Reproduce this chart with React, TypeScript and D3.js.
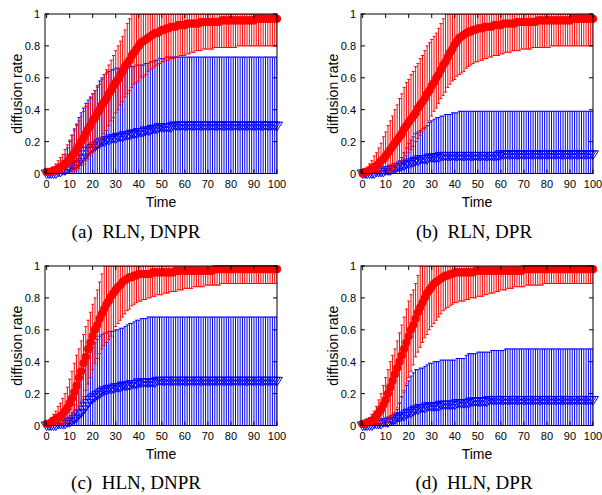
import * as d3 from "d3";

// values are read off the picture, in percent of the diffusion rate, one per time step 0..100
// (a) RLN, DNPR
const aRedMean = [1,1,1,2,2,3,4,5,6,7, 9,11,13,15,17,20,22,25,28,30, 33,35,38,40,43,45,47,50,52,55, 57,59,62,64,67,69,71,74,76,78, 80,82,83,84,85,86,87,88,88,89, 90,90,91,91,92,92,92,93,93,93, 93,94,94,94,94,94,94,95,95,95, 95,95,95,95,95,95,96,96,96,96, 96,96,96,96,96,96,96,96,96,96, 96,97,97,97,97,97,97,97,97,97,97];
const aRedLow = [0,0,0,0,0,0,0,0,0,0, 0,1,1,2,3,5,6,8,9,11, 13,15,17,20,22,25,27,30,33,35, 38,40,43,45,48,50,52,54,56,57, 58,60,61,62,64,65,66,67,68,69, 70,70,71,71,72,72,73,73,74,74, 74,75,75,76,76,77,77,77,78,78, 78,78,78,79,79,79,79,79,79,79, 79,79,79,80,80,80,80,80,80,80, 80,80,80,80,80,80,80,80,80,80,80];
const aRedHigh = [1,2,3,4,6,8,10,12,15,18, 21,24,27,30,33,36,39,42,44,47, 50,52,54,56,59,62,65,68,71,74, 77,80,83,86,90,94,97,100,100,100, 100,100,100,100,100,100,100,100,100,100, 100,100,100,100,100,100,100,100,100,100, 100,100,100,100,100,100,100,100,100,100, 100,100,100,100,100,100,100,100,100,100, 100,100,100,100,100,100,100,100,100,100, 100,100,100,100,100,100,100,100,100,100,100];
const aBlueMean = [0,0,0,0,0,1,1,2,2,3, 4,5,5,6,7,9,10,12,14,15, 16,17,18,19,20,20,21,21,22,22, 22,23,23,23,24,24,24,25,25,25, 26,26,26,27,27,27,28,28,28,29, 29,29,29,29,29,30,30,30,30,30, 30,30,30,30,30,30,30,30,30,30, 30,30,30,30,30,30,30,30,30,30, 30,30,30,30,30,30,30,30,30,30, 30,30,30,30,30,30,30,30,30,30,30];
const aBlueHigh = [1,1,2,2,3,5,6,8,12,16, 20,24,28,31,35,38,41,44,46,48, 50,52,55,58,60,62,63,64,65,65, 66,66,66,66,67,67,67,67,67,68, 68,68,68,69,69,70,70,71,71,72, 72,72,73,73,73,73,73,73,73,73, 73,73,73,73,73,73,73,73,73,73, 73,73,73,73,73,73,73,73,73,73, 73,73,73,73,73,73,73,73,73,73, 73,73,73,73,73,73,73,73,73,73,73];

// (b) RLN, DPR
const bRedMean = [0,1,1,2,3,4,5,6,8,9, 11,13,15,17,19,21,23,25,28,30, 32,34,36,38,41,43,45,47,50,52, 55,57,60,62,65,68,70,73,76,78, 81,83,85,86,87,88,89,89,90,90, 91,91,91,92,92,92,92,93,93,93, 93,94,94,94,94,94,94,95,95,95, 95,95,95,95,95,95,96,96,96,96, 96,96,96,96,96,96,96,96,96,96, 96,97,97,97,97,97,97,97,97,97,97];
const bRedLow = [0,0,0,0,0,0,0,0,0,0, 0,1,1,2,3,5,6,8,9,11, 13,15,17,20,22,24,26,28,30,33, 36,39,41,44,47,49,51,54,56,58, 59,61,62,63,64,66,67,68,69,70, 70,71,71,72,72,73,73,74,74,74, 75,75,76,76,76,77,77,77,77,78, 78,78,78,78,79,79,79,79,79,79, 79,79,80,80,80,80,80,80,80,80, 80,80,80,80,80,80,80,80,80,80,80];
const bRedHigh = [1,2,4,6,8,11,13,16,19,23, 26,30,33,36,40,43,47,50,54,57, 59,62,64,67,69,72,74,77,80,82, 84,86,88,91,94,97,100,100,100,100, 100,100,100,100,100,100,100,100,100,100, 100,100,100,100,100,100,100,100,100,100, 100,100,100,100,100,100,100,100,100,100, 100,100,100,100,100,100,100,100,100,100, 100,100,100,100,100,100,100,100,100,100, 100,100,100,100,100,100,100,100,100,100,100];
const bBlueMean = [0,0,0,0,0,0,1,1,1,1, 2,2,2,3,3,4,4,5,5,6, 6,7,7,8,8,9,9,9,9,10, 10,10,10,10,11,11,11,11,11,11, 11,11,11,11,11,11,11,11,11,11, 11,11,11,11,11,11,11,11,11,11, 12,12,12,12,12,12,12,12,12,12, 12,12,12,12,12,12,12,12,12,12, 12,12,12,12,12,12,12,12,12,12, 12,12,12,12,12,12,12,12,12,12,12];
const bBlueHigh = [0,0,0,1,1,1,1,1,2,2, 2,2,3,4,5,6,8,10,13,16, 19,21,23,25,26,27,28,29,30,32, 33,34,35,35,36,36,37,37,37,38, 38,38,39,39,39,39,39,39,39,39, 39,39,39,39,39,39,39,39,39,39, 39,39,39,39,39,39,39,39,39,39, 39,39,39,39,39,39,39,39,39,39, 39,39,39,39,39,39,39,39,39,39, 39,39,39,39,39,39,39,39,39,39,39];

// (c) HLN, DNPR
const cRedMean = [1,1,2,3,4,5,6,7,9,11, 14,17,21,25,30,34,39,43,48,52, 56,60,63,67,70,73,76,78,81,83, 85,87,88,90,91,92,93,93,94,94, 95,95,95,95,95,95,96,96,96,96, 96,96,96,96,96,96,97,97,97,97, 97,97,97,97,97,97,97,97,97,97, 97,97,97,98,98,98,98,98,98,98, 98,98,98,98,98,98,98,98,98,98, 98,98,98,98,98,98,98,98,98,98,98];
const cRedLow = [0,0,0,0,0,0,0,0,1,2, 4,6,8,10,12,15,18,22,26,30, 35,39,42,45,48,50,52,54,56,59, 62,64,66,68,70,72,73,75,76,77, 78,78,79,79,80,80,81,81,82,82, 82,83,83,83,84,84,84,85,85,85, 86,86,86,86,87,87,87,87,87,88, 88,88,88,88,88,88,89,89,89,89, 89,89,89,89,89,89,89,89,89,89, 89,89,89,89,89,89,89,89,89,89,89];
const cRedHigh = [2,3,5,7,9,12,14,17,20,24, 29,34,39,44,48,53,57,62,66,71, 76,80,85,90,95,100,100,100,100,100, 100,100,100,100,100,100,100,100,100,100, 100,100,100,100,100,100,100,100,100,100, 100,100,100,100,100,100,100,100,100,100, 100,100,100,100,100,100,100,100,100,100, 100,100,100,100,100,100,100,100,100,100, 100,100,100,100,100,100,100,100,100,100, 100,100,100,100,100,100,100,100,100,100,100];
const cBlueMean = [0,0,0,0,0,1,1,1,1,2, 2,3,4,5,7,8,10,12,14,16, 17,18,19,20,21,22,22,23,23,23, 24,24,24,25,25,25,25,26,26,26, 27,27,27,27,27,27,27,27,28,28, 28,28,28,28,28,28,28,28,28,28, 28,28,28,28,28,28,28,28,28,28, 28,28,28,28,28,28,28,28,28,28, 28,28,28,28,28,28,28,28,28,28, 28,28,28,28,28,28,28,28,28,28,28];
const cBlueHigh = [0,0,0,0,0,1,1,1,2,3, 5,8,13,20,27,33,37,40,43,46, 49,52,54,56,57,58,58,59,59,59, 60,60,61,61,62,63,64,64,65,66, 66,67,67,67,68,68,68,68,68,68, 68,68,68,68,68,68,68,68,68,68, 68,68,68,68,68,68,68,68,68,68, 68,68,68,68,68,68,68,68,68,68, 68,68,68,68,68,68,68,68,68,68, 68,68,68,68,68,68,68,68,68,68,68];

// (d) HLN, DPR
const dRedMean = [1,1,2,2,3,4,6,8,10,13, 16,20,24,28,32,36,40,44,48,52, 56,60,63,67,71,74,77,80,83,85, 87,89,90,91,92,93,94,94,95,95, 96,96,96,96,96,96,96,96,96,97, 97,97,97,97,97,97,97,97,97,97, 97,97,97,97,97,97,97,97,97,97, 98,98,98,98,98,98,98,98,98,98, 98,98,98,98,98,98,98,98,98,98, 98,98,98,98,98,98,98,98,98,98,98];
const dRedLow = [0,0,0,0,0,0,0,0,0,0, 1,2,4,6,8,11,14,18,22,26, 30,34,38,43,46,49,52,55,57,60, 62,64,66,68,70,72,73,74,75,76, 77,77,78,78,78,79,79,80,80,80, 81,81,81,82,82,83,83,83,84,84, 85,85,85,86,86,86,87,87,87,87, 87,88,88,88,88,88,88,88,88,89, 89,89,89,89,89,89,89,89,89,89, 89,89,89,89,89,89,89,89,89,89,89];
const dRedHigh = [2,3,4,5,7,9,12,16,20,25, 30,35,40,44,48,53,58,63,68,73, 78,82,85,89,94,100,100,100,100,100, 100,100,100,100,100,100,100,100,100,100, 100,100,100,100,100,100,100,100,100,100, 100,100,100,100,100,100,100,100,100,100, 100,100,100,100,100,100,100,100,100,100, 100,100,100,100,100,100,100,100,100,100, 100,100,100,100,100,100,100,100,100,100, 100,100,100,100,100,100,100,100,100,100,100];
const dBlueMean = [0,0,0,0,0,1,1,1,1,2, 2,2,3,3,4,5,5,6,6,7, 8,8,9,10,10,11,11,11,12,12, 12,12,12,12,13,13,13,13,13,13, 13,14,14,14,14,14,14,15,15,15, 15,15,15,15,15,16,16,16,16,16, 16,16,16,16,16,16,16,16,16,16, 16,16,16,16,16,16,16,16,16,16, 16,16,16,16,16,16,16,16,16,16, 16,16,16,16,16,16,16,16,16,16,16];
const dBlueHigh = [0,0,0,0,0,1,1,1,1,2, 2,2,4,5,7,10,14,18,21,25, 28,31,33,35,35,36,36,37,38,39, 39,40,40,40,41,41,41,41,41,41, 41,42,42,42,42,44,45,45,45,45, 46,46,46,46,46,46,47,47,47,47, 47,47,48,48,48,48,48,48,48,48, 48,48,48,48,48,48,48,48,48,48, 48,48,48,48,48,48,48,48,48,48, 48,48,48,48,48,48,48,48,48,48,48];

const xTicks = [0, 10, 20, 30, 40, 50, 60, 70, 80, 90, 100];
const yTicks = [0, 0.2, 0.4, 0.6, 0.8, 1];
const yTickLabels = ["0", "0.2", "0.4", "0.6", "0.8", "1"];

const panels = [
  { id: "a", tag: "(a)", caption: "RLN, DNPR", left: 45, top: 14, capX: 136, capY: 238, redMean: aRedMean, redLow: aRedLow, redHigh: aRedHigh, blueMean: aBlueMean, blueHigh: aBlueHigh },
  { id: "b", tag: "(b)", caption: "RLN, DPR", left: 361, top: 14, capX: 474, capY: 238, redMean: bRedMean, redLow: bRedLow, redHigh: bRedHigh, blueMean: bBlueMean, blueHigh: bBlueHigh },
  { id: "c", tag: "(c)", caption: "HLN, DNPR", left: 45, top: 266, capX: 136, capY: 489, redMean: cRedMean, redLow: cRedLow, redHigh: cRedHigh, blueMean: cBlueMean, blueHigh: cBlueHigh },
  { id: "d", tag: "(d)", caption: "HLN, DPR", left: 361, top: 266, capX: 474, capY: 489, redMean: dRedMean, redLow: dRedLow, redHigh: dRedHigh, blueMean: dBlueMean, blueHigh: dBlueHigh },
];

const plotW = 232;
const plotH = 159.5;
const sans = "'Liberation Sans', Arial, Helvetica, sans-serif";
const serif = "'Liberation Serif', 'Times New Roman', serif";

function Panel({ p }: { p: any }) {
  const right = p.left + plotW;
  const bottom = p.top + plotH;
  const x = d3.scaleLinear().domain([-0.7, 100]).range([p.left, right]);
  const y = d3.scaleLinear().domain([0, 1]).range([bottom, p.top]);
  const clip = "clip-" + p.id;
  const cap = 1.5;

  // error bars: lower/upper bound as fractions
  const bars = (lows: number[], highs: number[], color: string) => (
    <g stroke={color} strokeWidth={1} clipPath={`url(#${clip})`}>
      {highs.map((h, i) => {
        const xi = x(i);
        const y0 = y(lows[i]);
        const y1 = y(h);
        return (
          <g key={i}>
            <line x1={xi} x2={xi} y1={y0} y2={y1} />
            <line x1={xi - cap} x2={xi + cap} y1={y0} y2={y0} />
            <line x1={xi - cap} x2={xi + cap} y1={y1} y2={y1} />
          </g>
        );
      })}
    </g>
  );

  const blueHigh = p.blueHigh.map((v: number) => v / 100);
  const blueMean = p.blueMean.map((v: number) => v / 100);
  // symmetric error bar: mean - (high - mean)
  const blueLow = blueMean.map((m: number, i: number) => 2 * m - blueHigh[i]);
  const redMean = p.redMean.map((v: number) => v / 100);
  const redLow = p.redLow.map((v: number) => v / 100);
  const redHigh = p.redHigh.map((v: number) => v / 100);

  const tri = (cx: number, cy: number) =>
    `M${cx - 5.5},${cy - 3.5}L${cx + 5.5},${cy - 3.5}L${cx},${cy + 5}Z`;

  return (
    <g>
      <defs>
        <clipPath id={clip}>
          <rect x={p.left} y={p.top} width={plotW} height={plotH} />
        </clipPath>
      </defs>

      {bars(blueLow, blueHigh, "#0000ff")}
      <g fill="none" stroke="#0000ff" strokeWidth={1}>
        {blueMean.map((m: number, i: number) => (
          <path key={i} d={tri(x(i), y(m))} />
        ))}
      </g>

      {bars(redLow, redHigh, "#ff0000")}
      <g fill="#ff0000">
        {redMean.map((m: number, i: number) => (
          <circle key={i} cx={x(i)} cy={y(m)} r={4.1} />
        ))}
      </g>

      {/* ticks, mirrored on all sides */}
      <g stroke="#000" strokeWidth={1}>
        {yTicks.map((t) => (
          <g key={"y" + t}>
            <line x1={p.left} x2={p.left + 4} y1={y(t)} y2={y(t)} />
            <line x1={right - 4} x2={right} y1={y(t)} y2={y(t)} />
          </g>
        ))}
        {xTicks.map((t) => (
          <g key={"x" + t}>
            <line x1={x(t)} x2={x(t)} y1={bottom} y2={bottom - 4} />
            <line x1={x(t)} x2={x(t)} y1={p.top} y2={p.top + 4} />
          </g>
        ))}
      </g>
      <rect x={p.left} y={p.top} width={plotW} height={plotH} fill="none" stroke="#000" strokeWidth={1} />

      <g fontFamily={sans} fontSize={11} fill="#000">
        {yTicks.map((t, i) => (
          <text key={"yl" + t} x={p.left - 5} y={y(t) + 4} textAnchor="end">{yTickLabels[i]}</text>
        ))}
        {xTicks.map((t) => (
          <text key={"xl" + t} x={x(t)} y={bottom + 14} textAnchor="middle">{t}</text>
        ))}
      </g>
      <text fontFamily={sans} fontSize={14} textAnchor="middle"
        transform={`translate(${p.left - 23},${(p.top + bottom) / 2}) rotate(-90)`}>diffusion rate</text>
      <text fontFamily={sans} fontSize={14} textAnchor="middle" x={(p.left + right) / 2} y={bottom + 33}>Time</text>
      <text fontFamily={serif} fontSize={19} textAnchor="middle" x={p.capX} y={p.capY}>
        {p.tag + "\u00a0\u00a0" + p.caption}
      </text>
    </g>
  );
}

export default function App() {
  return (
    <svg width={602} height={495} style={{ position: "absolute", left: 0, top: 0, background: "#fff" }}>
      <rect width={602} height={495} fill="#fff" />
      {panels.map((p) => (
        <Panel key={p.id} p={p} />
      ))}
    </svg>
  );
}
